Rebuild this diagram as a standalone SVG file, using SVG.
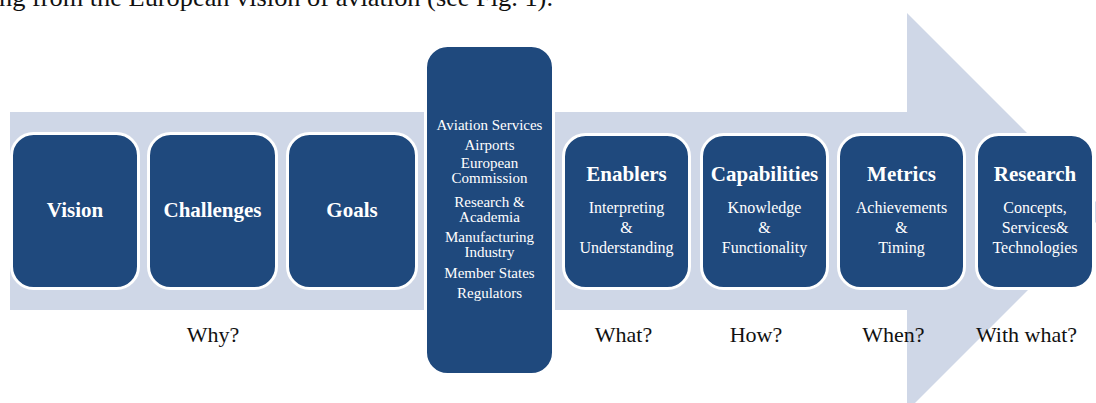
<svg xmlns="http://www.w3.org/2000/svg" width="1096" height="403" viewBox="0 0 1096 403">
  <style>
    .node rect { fill: #1F497D; stroke: #FFFFFF; stroke-width: 3; }
    .title { font-family: "Liberation Serif", "Times New Roman", serif; font-weight: bold; font-size: 21px; fill: #FFFFFF; text-anchor: middle; }
    .sub { font-family: "Liberation Serif", "Times New Roman", serif; font-size: 16px; fill: #FFFFFF; text-anchor: middle; }
    .actor { font-family: "Liberation Serif", "Times New Roman", serif; font-size: 15px; fill: #FFFFFF; text-anchor: middle; }
    .ask { font-family: "Liberation Serif", "Times New Roman", serif; font-size: 22px; fill: #111111; text-anchor: middle; }
    .body { font-family: "Liberation Serif", "Times New Roman", serif; font-size: 26px; fill: #111111; }
  </style>

  <rect width="1096" height="403" fill="#FFFFFF"/>

  <!-- running text line above the figure -->
  <text class="body" x="-1" y="6" textLength="554" lengthAdjust="spacingAndGlyphs">ng from the European vision of aviation (see Fig. 1).</text>

  <!-- broad arrow behind the sequence -->
  <g id="connectors">
    <polygon points="10,112 907,112 907,13 1106,212 907,411 907,310 10,310" fill="#CFD7E7"/>
  </g>

  <!-- why -->
  <g id="vision" class="node">
    <rect x="11.5" y="133.5" width="127" height="155" rx="22"/>
    <text class="title" x="75" y="217">Vision</text>
  </g>
  <g id="challenges" class="node">
    <rect x="148.5" y="133.5" width="128" height="155" rx="22"/>
    <text class="title" x="212.5" y="217">Challenges</text>
  </g>
  <g id="goals" class="node">
    <rect x="287.5" y="133.5" width="129" height="155" rx="22"/>
    <text class="title" x="352" y="217">Goals</text>
  </g>

  <!-- stakeholders -->
  <g id="stakeholders" class="node">
    <rect x="425.5" y="45.5" width="128" height="329" rx="22"/>
    <text class="actor" x="489.5" y="130">Aviation Services</text>
    <text class="actor" x="489.5" y="150">Airports</text>
    <text class="actor" x="489.5" y="168">European</text>
    <text class="actor" x="489.5" y="183">Commission</text>
    <text class="actor" x="489.5" y="207">Research &amp;</text>
    <text class="actor" x="489.5" y="222">Academia</text>
    <text class="actor" x="489.5" y="242">Manufacturing</text>
    <text class="actor" x="489.5" y="257">Industry</text>
    <text class="actor" x="489.5" y="278">Member States</text>
    <text class="actor" x="489.5" y="298">Regulators</text>
  </g>

  <!-- what / how / when / with what -->
  <g id="enablers" class="node">
    <rect x="563.5" y="134.5" width="126" height="154" rx="22"/>
    <text class="title" x="626.5" y="181">Enablers</text>
    <text class="sub" x="626.5" y="213">Interpreting</text>
    <text class="sub" x="626.5" y="233">&amp;</text>
    <text class="sub" x="626.5" y="253">Understanding</text>
  </g>
  <g id="capabilities" class="node">
    <rect x="701.5" y="134.5" width="126" height="154" rx="22"/>
    <text class="title" x="764.5" y="181">Capabilities</text>
    <text class="sub" x="764.5" y="213">Knowledge</text>
    <text class="sub" x="764.5" y="233">&amp;</text>
    <text class="sub" x="764.5" y="253">Functionality</text>
  </g>
  <g id="metrics" class="node">
    <rect x="838.5" y="134.5" width="126" height="154" rx="22"/>
    <text class="title" x="901.5" y="181">Metrics</text>
    <text class="sub" x="901.5" y="213">Achievements</text>
    <text class="sub" x="901.5" y="233">&amp;</text>
    <text class="sub" x="901.5" y="253">Timing</text>
  </g>
  <g id="research" class="node">
    <rect x="976.5" y="134.5" width="117" height="154" rx="22"/>
    <text class="title" x="1035" y="181">Research</text>
    <text class="sub" x="1035" y="213">Concepts,</text>
    <text class="sub" x="1035" y="233">Services&amp;</text>
    <text class="sub" x="1035" y="253">Technologies</text>
  </g>

  <!-- guiding questions -->
  <g id="questions">
    <text class="ask" x="213" y="342">Why?</text>
    <text class="ask" x="623.5" y="342">What?</text>
    <text class="ask" x="756" y="342">How?</text>
    <text class="ask" x="893.5" y="342">When?</text>
    <text class="ask" x="1026.5" y="342">With what?</text>
  </g>
</svg>
